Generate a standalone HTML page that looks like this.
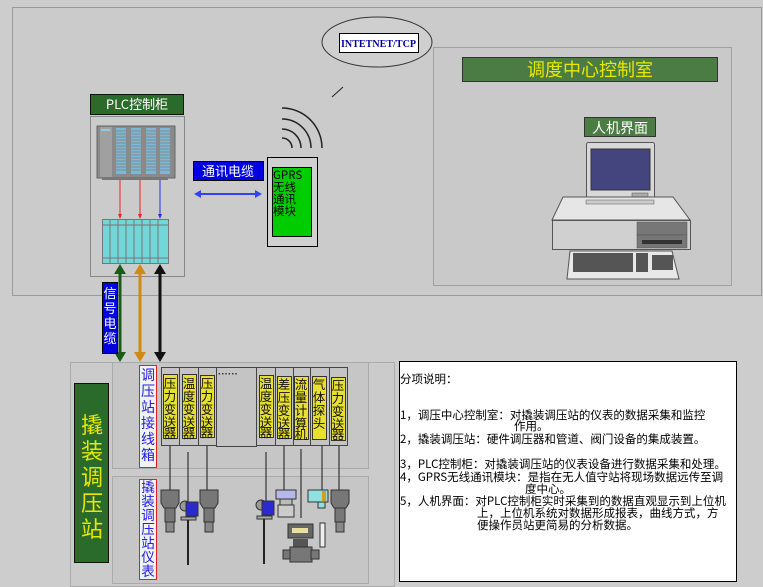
<!DOCTYPE html>
<html><head><meta charset="utf-8"><style>
html,body{margin:0;padding:0;background:#cdcdcd;}
svg{display:block;font-family:"Liberation Sans","Noto Sans CJK SC","WenQuanYi Zen Hei",sans-serif;}
.v{font-family:"WenQuanYi Zen Hei","Noto Sans CJK SC",sans-serif;}
</style></head><body>
<svg width="763" height="587" viewBox="0 0 763 587" xmlns="http://www.w3.org/2000/svg">
<rect width="763" height="587" fill="#cdcdcd"/>
<rect x="12.5" y="7.5" width="749" height="288" fill="#cbcbcb" stroke="#9a9a9a"/>
<rect x="433.5" y="47.5" width="298" height="238" fill="#c9c9c9" stroke="#a0a0a0"/>
<rect x="462.5" y="57.5" width="255" height="24" fill="#4a7c44" stroke="#333"/>
<text x="590" y="76" font-size="18" fill="#e8e800" text-anchor="middle" class="v">调度中心控制室</text>
<rect x="584.5" y="117.5" width="71" height="19" fill="#4a7c44" stroke="#333"/>
<text x="620" y="133" font-size="14" fill="#fff" text-anchor="middle" class="v">人机界面</text>
<rect x="586.5" y="142.5" width="68" height="58" rx="2" fill="#d8d8d8" stroke="#555"/>
<rect x="591" y="149" width="59" height="41" fill="#44447f" stroke="#333"/>
<rect x="632" y="193" width="16" height="4" fill="#aaa" stroke="#555" stroke-width=".5"/>
<polygon points="563,197 673,197 690,220 552,220" fill="#e6e6e6" stroke="#555"/>
<rect x="586" y="200" width="68" height="4" fill="#ccc" stroke="#555" stroke-width=".5"/>
<rect x="552.5" y="220.5" width="138" height="29" fill="#d0d0d0" stroke="#555"/>
<rect x="637" y="222" width="50" height="13" fill="#777" stroke="#555" stroke-width=".5"/>
<rect x="637" y="235" width="50" height="13" fill="#777" stroke="#555" stroke-width=".5"/>
<rect x="642" y="240" width="40" height="4" fill="#333"/>
<polygon points="570,251 672,251 679,279 567,279" fill="#e8e8e8" stroke="#555"/>
<rect x="573" y="253" width="60" height="19" fill="#555"/>
<rect x="636" y="253" width="12" height="19" fill="#555"/>
<rect x="652" y="255" width="21" height="15" fill="#555"/>
<ellipse cx="377" cy="42" rx="55" ry="25" fill="#cfcfcf" stroke="#333"/>
<rect x="339.5" y="33.5" width="79" height="19" fill="#fff" stroke="#000"/>
<text x="341" y="47" font-size="11" fill="#0000a0" font-family="Liberation Serif" font-weight="bold" textLength="75" lengthAdjust="spacingAndGlyphs">INTETNET/TCP</text>
<line x1="332" y1="97" x2="343" y2="87" stroke="#222"/>
<g fill="none" stroke="#222" stroke-width="1.5">
<path d="M282,138 A10,10 0 0 1 292,148"/>
<path d="M282,129 A19,19 0 0 1 301,148"/>
<path d="M282,119 A29,29 0 0 1 311,148"/>
<path d="M282,108 A40,40 0 0 1 322,148"/>
</g>
<rect x="267.5" y="157.5" width="50" height="89" fill="#d0d0d0" stroke="#000"/>
<rect x="272.5" y="167.5" width="39" height="69" fill="#00cc00" stroke="#000"/>
<text font-size="11.5" fill="#000" class="v"><tspan x="273" y="179">GPRS</tspan><tspan x="273" y="191">无线</tspan><tspan x="273" y="203">通讯</tspan><tspan x="273" y="215">模块</tspan></text>
<rect x="193.5" y="161.5" width="70" height="19" fill="#0000e0" stroke="#000"/>
<text x="228" y="176" font-size="13" fill="#fff" text-anchor="middle" class="v">通讯电缆</text>
<line x1="198" y1="194" x2="257" y2="194" stroke="#3344ee" stroke-width="2"/>
<polygon points="194,194 201,190 201,198" fill="#3344ee"/>
<polygon points="262,194 255,190 255,198" fill="#3344ee"/>
<rect x="90.5" y="94.5" width="93" height="20" fill="#2a6a2a" stroke="#111"/>
<text x="137" y="109" font-size="13" fill="#fff" text-anchor="middle" class="v">PLC控制柜</text>
<rect x="90.5" y="116.5" width="94" height="160" fill="#cbcbcb" stroke="#888"/>
<rect x="97" y="126" width="78" height="52" fill="#8a8a8a" stroke="#666"/>
<rect x="100" y="127" width="12" height="50" fill="#a0a0a0"/>
<rect x="101" y="129" width="9" height="2" fill="#8ccde6"/>
<g fill="#7ab8d6"><rect x="116" y="128" width="10" height="46"/><rect x="131" y="128" width="10" height="46"/><rect x="146" y="128" width="10" height="46"/><rect x="160" y="128" width="10" height="46"/></g>
<g stroke="#8a8a8a" stroke-width="1"><line x1="116" y1="131" x2="170" y2="131"/><line x1="116" y1="134" x2="170" y2="134"/><line x1="116" y1="137" x2="170" y2="137"/><line x1="116" y1="140" x2="170" y2="140"/><line x1="116" y1="143" x2="170" y2="143"/><line x1="116" y1="146" x2="170" y2="146"/><line x1="116" y1="149" x2="170" y2="149"/><line x1="116" y1="152" x2="170" y2="152"/><line x1="116" y1="155" x2="170" y2="155"/><line x1="116" y1="158" x2="170" y2="158"/><line x1="116" y1="161" x2="170" y2="161"/><line x1="116" y1="164" x2="170" y2="164"/><line x1="116" y1="167" x2="170" y2="167"/><line x1="116" y1="170" x2="170" y2="170"/></g>
<rect x="102" y="177" width="66" height="3" fill="#777"/>
<line x1="120" y1="180" x2="120" y2="217" stroke="#ee2222"/>
<line x1="140" y1="180" x2="140" y2="217" stroke="#ee2222"/>
<line x1="160" y1="180" x2="160" y2="217" stroke="#2233ee"/>
<polygon points="120,219 118,214 122,214" fill="#ee2222"/><polygon points="140,219 138,214 142,214" fill="#ee2222"/><polygon points="160,219 158,214 162,214" fill="#2233ee"/>
<rect x="102.5" y="219.5" width="66" height="44" fill="#70d8d8" stroke="#777"/>
<g stroke="#777"><line x1="110" y1="220" x2="110" y2="263"/><line x1="118" y1="220" x2="118" y2="263"/><line x1="126" y1="220" x2="126" y2="263"/><line x1="134" y1="220" x2="134" y2="263"/><line x1="142" y1="220" x2="142" y2="263"/><line x1="150" y1="220" x2="150" y2="263"/><line x1="158" y1="220" x2="158" y2="263"/><line x1="102" y1="225" x2="168" y2="225"/><line x1="102" y1="258" x2="168" y2="258"/></g>
<g stroke-width="3">
<line x1="120" y1="270" x2="120" y2="356" stroke="#1a5a1a"/>
<line x1="140" y1="270" x2="140" y2="356" stroke="#d08a10"/>
<line x1="160" y1="270" x2="160" y2="356" stroke="#111"/>
</g>
<polygon points="120,264 114,274 126,274" fill="#1a5a1a"/><polygon points="120,362 114,352 126,352" fill="#1a5a1a"/>
<polygon points="140,264 134,274 146,274" fill="#d08a10"/><polygon points="140,362 134,352 146,352" fill="#d08a10"/>
<polygon points="160,264 154,274 166,274" fill="#111"/><polygon points="160,362 154,352 166,352" fill="#111"/>
<rect x="102.5" y="282.5" width="15" height="71" fill="#0000e0" stroke="#000"/>
<text font-size="13" fill="#fff" text-anchor="middle" class="v"><tspan x="110" y="298">信</tspan><tspan x="110" y="313">号</tspan><tspan x="110" y="328">电</tspan><tspan x="110" y="343">缆</tspan></text>
<rect x="70.5" y="362.5" width="324" height="224" fill="#cbcbcb" stroke="#aaa"/>
<rect x="74.5" y="383.5" width="34" height="179" fill="#2a6a2a" stroke="#111"/>
<text font-size="22" fill="#e8e800" text-anchor="middle" class="v"><tspan x="92" y="433">撬</tspan><tspan x="92" y="459">装</tspan><tspan x="92" y="485">调</tspan><tspan x="92" y="511">压</tspan><tspan x="92" y="537">站</tspan></text>
<rect x="112.5" y="362.5" width="256" height="106" fill="#c6c6c6" stroke="#aaa"/>
<rect x="112.5" y="476.5" width="256" height="107" fill="#c6c6c6" stroke="#aaa"/>
<rect x="139.5" y="365.5" width="17" height="102" fill="#f2f2f2" stroke="#e02020"/>
<text font-size="14" fill="#2020e0" text-anchor="middle" class="v"><tspan x="148" y="380">调</tspan><tspan x="148" y="396">压</tspan><tspan x="148" y="412">站</tspan><tspan x="148" y="428">接</tspan><tspan x="148" y="444">线</tspan><tspan x="148" y="460">箱</tspan></text>
<rect x="139.5" y="479.5" width="17" height="100" fill="#f2f2f2" stroke="#e02020"/>
<text font-size="13.5" fill="#2020e0" text-anchor="middle" class="v"><tspan x="148" y="492">撬</tspan><tspan x="148" y="506">装</tspan><tspan x="148" y="520">调</tspan><tspan x="148" y="534">压</tspan><tspan x="148" y="548">站</tspan><tspan x="148" y="562">仪</tspan><tspan x="148" y="576">表</tspan></text>
<g fill="#c4c4c4" stroke="#444">
<rect x="161.5" y="367.5" width="18" height="78"/>
<rect x="179.5" y="367.5" width="19" height="78"/>
<rect x="198.5" y="367.5" width="18" height="78"/>
<rect x="216.5" y="367.5" width="40" height="79"/>
<rect x="256.5" y="367.5" width="19" height="78"/>
<rect x="275.5" y="367.5" width="18" height="78"/>
<rect x="293.5" y="367.5" width="17" height="78"/>
<rect x="310.5" y="367.5" width="19" height="78"/>
<rect x="329.5" y="367.5" width="18" height="78"/>
</g>
<text x="218" y="377" font-size="10" fill="#333" font-weight="bold">······</text>
<g fill="#e8e030" stroke="#333">
<rect x="163.5" y="374.5" width="14" height="64"/>
<rect x="182.5" y="374.5" width="14" height="64"/>
<rect x="200.5" y="375.5" width="14" height="62"/>
<rect x="259.5" y="375.5" width="14" height="62"/>
<rect x="277.5" y="376.5" width="14" height="62"/>
<rect x="294.5" y="376.5" width="14" height="63"/>
<rect x="312.5" y="376.5" width="14" height="63"/>
<rect x="331.5" y="377.5" width="14" height="63"/>
</g>
<g font-size="12.5" fill="#111" text-anchor="middle" class="v">
<text><tspan x="170" y="388">压</tspan><tspan x="170" y="401">力</tspan><tspan x="170" y="414">变</tspan><tspan x="170" y="427">送</tspan><tspan x="170" y="438">器</tspan></text>
<text><tspan x="189" y="388">温</tspan><tspan x="189" y="401">度</tspan><tspan x="189" y="414">变</tspan><tspan x="189" y="427">送</tspan><tspan x="189" y="438">器</tspan></text>
<text><tspan x="207" y="388">压</tspan><tspan x="207" y="401">力</tspan><tspan x="207" y="414">变</tspan><tspan x="207" y="427">送</tspan><tspan x="207" y="437">器</tspan></text>
<text><tspan x="266" y="388">温</tspan><tspan x="266" y="401">度</tspan><tspan x="266" y="414">变</tspan><tspan x="266" y="427">送</tspan><tspan x="266" y="437">器</tspan></text>
<text><tspan x="284" y="389">差</tspan><tspan x="284" y="402">压</tspan><tspan x="284" y="415">变</tspan><tspan x="284" y="428">送</tspan><tspan x="284" y="438">器</tspan></text>
<text><tspan x="301" y="389">流</tspan><tspan x="301" y="402">量</tspan><tspan x="301" y="415">计</tspan><tspan x="301" y="428">算</tspan><tspan x="301" y="439">机</tspan></text>
<text><tspan x="319" y="389">气</tspan><tspan x="319" y="402">体</tspan><tspan x="319" y="415">探</tspan><tspan x="319" y="428">头</tspan></text>
<text><tspan x="338" y="390">压</tspan><tspan x="338" y="403">力</tspan><tspan x="338" y="416">变</tspan><tspan x="338" y="429">送</tspan><tspan x="338" y="439">器</tspan></text>
</g>
<g stroke="#333" stroke-width="1.2">
<line x1="170" y1="446" x2="170" y2="490"/><line x1="188" y1="452" x2="188" y2="503"/><line x1="207" y1="446" x2="207" y2="490"/>
<line x1="266" y1="452" x2="266" y2="503"/><line x1="284" y1="446" x2="284" y2="490"/><line x1="301" y1="449" x2="301" y2="518"/>
<line x1="322" y1="446" x2="322" y2="492"/><line x1="339" y1="446" x2="339" y2="490"/>
</g>
<g>
<path d="M161,490 h18 v13 l-3,5 h-12 l-3,-5z" fill="#777" stroke="#333"/>
<rect x="165" y="508" width="10" height="14" fill="#777" stroke="#333"/>
<rect x="166" y="522" width="8" height="10" fill="#888" stroke="#333"/>
</g>
<g transform="translate(39,0)"><path d="M161,490 h18 v13 l-3,5 h-12 l-3,-5z" fill="#777" stroke="#333"/><rect x="165" y="508" width="10" height="14" fill="#777" stroke="#333"/><rect x="166" y="522" width="8" height="10" fill="#888" stroke="#333"/></g>
<g transform="translate(170,0)"><path d="M161,490 h18 v13 l-3,5 h-12 l-3,-5z" fill="#777" stroke="#333"/><rect x="165" y="508" width="10" height="14" fill="#777" stroke="#333"/><rect x="166" y="522" width="8" height="10" fill="#888" stroke="#333"/></g>
<g>
<circle cx="185" cy="506" r="5" fill="#999" stroke="#333"/>
<rect x="186" y="502" width="12" height="14" fill="#2a2ad0" stroke="#333"/>
<rect x="181" y="517" width="15" height="3" fill="#aaa" stroke="#333"/>
<line x1="188" y1="520" x2="188" y2="565" stroke="#222" stroke-width="2"/>
</g>
<g transform="translate(76,-1)">
<circle cx="185" cy="506" r="5" fill="#999" stroke="#333"/>
<rect x="186" y="502" width="12" height="14" fill="#2a2ad0" stroke="#333"/>
<rect x="181" y="517" width="15" height="3" fill="#aaa" stroke="#333"/>
<line x1="188" y1="520" x2="188" y2="565" stroke="#222" stroke-width="2"/>
</g>
<rect x="276" y="490" width="20" height="9" fill="#b8b8e8" stroke="#333"/>
<rect x="280" y="499" width="12" height="6" fill="#bbb" stroke="#333"/>
<rect x="278" y="505" width="16" height="12" fill="#ccc" stroke="#333"/>
<rect x="288" y="524" width="25" height="14" fill="#666" stroke="#333"/>
<rect x="292" y="528" width="16" height="5" fill="#e8e0a0"/>
<rect x="293" y="539" width="15" height="8" fill="#555"/>
<rect x="283" y="550" width="8" height="9" fill="#777" stroke="#333"/>
<rect x="290" y="547" width="22" height="15" fill="#777" stroke="#333"/>
<rect x="311" y="550" width="8" height="9" fill="#777" stroke="#333"/>
<rect x="308" y="490" width="20" height="12" fill="#90e0e0" stroke="#333"/>
<rect x="322" y="491" width="4" height="10" fill="#d0a020"/>
<rect x="318" y="502" width="7" height="6" fill="#90e0e0" stroke="#333"/>
<rect x="320" y="523" width="5" height="24" fill="#eee" stroke="#333"/>
<rect x="399.5" y="361.5" width="337" height="220" fill="#fff" stroke="#000"/>
<g font-size="11.5" fill="#000" class="v">
<text x="400" y="383">分项说明：</text>
<text x="400" y="419">1，调压中心控制室：对撬装调压站的仪表的数据采集和监控</text>
<text x="514" y="430">作用。</text>
<text x="400" y="443">2，撬装调压站：硬件调压器和管道、阀门设备的集成装置。</text>
<text x="400" y="468">3，PLC控制柜：对撬装调压站的仪表设备进行数据采集和处理。</text>
<text x="400" y="481">4，GPRS无线通讯模块：是指在无人值守站将现场数据远传至调</text>
<text x="525" y="493">度中心。</text>
<text x="400" y="505">5，人机界面：对PLC控制柜实时采集到的数据直观显示到上位机</text>
<text x="477" y="517">上，上位机系统对数据形成报表，曲线方式，方</text>
<text x="477" y="529">便操作员站更简易的分析数据。</text>
</g>
</svg>
</body></html>
